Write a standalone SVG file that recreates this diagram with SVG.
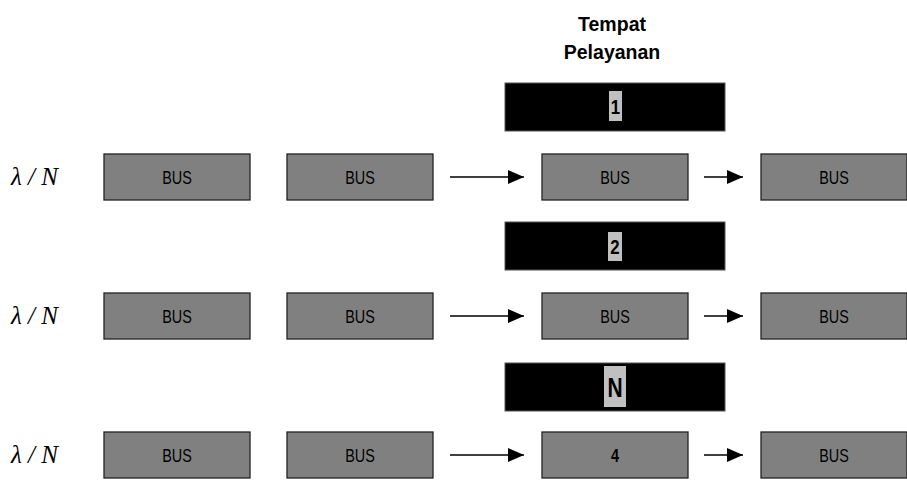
<svg xmlns="http://www.w3.org/2000/svg" width="907" height="481" viewBox="0 0 907 481">
<style>
.bus{fill:#808080;stroke:#222;stroke-width:1.3}
.srv{fill:#000;stroke:#555;stroke-width:1}
.hl{fill:#c0c0c0}
.t{font-family:"Liberation Sans",Arial,sans-serif;font-size:18px;fill:#000;text-anchor:middle}
.b{font-weight:bold}
.ti{font-size:21px}
.lbl{font-size:21px}
.big{font-size:28px}
.sm{font-size:18px}
.lam{font-family:"Liberation Serif","Times New Roman",serif;font-style:italic;font-size:25px;fill:#000}
.ln{stroke:#000;stroke-width:1.3;fill:none}
</style>
<defs>
<marker id="ah" markerWidth="16" markerHeight="14" refX="16" refY="7" orient="auto" markerUnits="userSpaceOnUse">
<path d="M0,0 L16,7 L0,14 Z" fill="#000"/>
</marker>
</defs>
<g id="title">
<text class="t b ti" transform="translate(612,31) scale(0.93,1)">Tempat</text>
<text class="t b ti" transform="translate(612,59) scale(0.93,1)">Pelayanan</text>
</g>
<g id="srv1"><rect class="srv" x="505" y="83" width="220" height="48"/><rect class="hl" x="609" y="91" width="13" height="30"/><text class="t b lbl" transform="translate(615.5,114) scale(0.8,1)">1</text></g>
<g id="srv2"><rect class="srv" x="505" y="222" width="220" height="48"/><rect class="hl" x="608" y="232" width="14" height="29"/><text class="t b lbl" transform="translate(615,254) scale(0.8,1)">2</text></g>
<g id="srvN"><rect class="srv" x="505" y="363" width="220" height="48"/><rect class="hl" x="604" y="366" width="22" height="41"/><text class="t b big" transform="translate(615,397) scale(0.75,1)">N</text></g>
<g id="lam1"><text class="lam" x="11" y="185">λ / N</text></g>
<g id="lam2"><text class="lam" x="11" y="324">λ / N</text></g>
<g id="lam3"><text class="lam" x="11" y="463">λ / N</text></g>
<g id="r1b1"><rect class="bus" x="104" y="154" width="146" height="46"/><text class="t" transform="translate(177,184) scale(0.8,1)">BUS</text></g>
<g id="r1b2"><rect class="bus" x="287" y="154" width="146" height="46"/><text class="t" transform="translate(360,184) scale(0.8,1)">BUS</text></g>
<g id="r1b3"><rect class="bus" x="542" y="154" width="146" height="46"/><text class="t" transform="translate(615,184) scale(0.8,1)">BUS</text></g>
<g id="r1b4"><rect class="bus" x="761" y="154" width="146" height="46"/><text class="t" transform="translate(834,184) scale(0.8,1)">BUS</text></g>
<g id="r2b1"><rect class="bus" x="104" y="293" width="146" height="46"/><text class="t" transform="translate(177,323) scale(0.8,1)">BUS</text></g>
<g id="r2b2"><rect class="bus" x="287" y="293" width="146" height="46"/><text class="t" transform="translate(360,323) scale(0.8,1)">BUS</text></g>
<g id="r2b3"><rect class="bus" x="542" y="293" width="146" height="46"/><text class="t" transform="translate(615,323) scale(0.8,1)">BUS</text></g>
<g id="r2b4"><rect class="bus" x="761" y="293" width="146" height="46"/><text class="t" transform="translate(834,323) scale(0.8,1)">BUS</text></g>
<g id="r3b1"><rect class="bus" x="104" y="432" width="146" height="46"/><text class="t" transform="translate(177,462) scale(0.8,1)">BUS</text></g>
<g id="r3b2"><rect class="bus" x="287" y="432" width="146" height="46"/><text class="t" transform="translate(360,462) scale(0.8,1)">BUS</text></g>
<g id="r3b3"><rect class="bus" x="542" y="432" width="146" height="46"/><text class="t b sm" transform="translate(615,462) scale(0.8,1)">4</text></g>
<g id="r3b4"><rect class="bus" x="761" y="432" width="146" height="46"/><text class="t" transform="translate(834,462) scale(0.8,1)">BUS</text></g>
<g id="connectors">
<line class="ln" x1="450" y1="177" x2="524" y2="177" marker-end="url(#ah)"/>
<line class="ln" x1="704" y1="177" x2="743" y2="177" marker-end="url(#ah)"/>
<line class="ln" x1="450" y1="316" x2="524" y2="316" marker-end="url(#ah)"/>
<line class="ln" x1="704" y1="316" x2="743" y2="316" marker-end="url(#ah)"/>
<line class="ln" x1="450" y1="455" x2="524" y2="455" marker-end="url(#ah)"/>
<line class="ln" x1="704" y1="455" x2="743" y2="455" marker-end="url(#ah)"/>
</g>
</svg>
